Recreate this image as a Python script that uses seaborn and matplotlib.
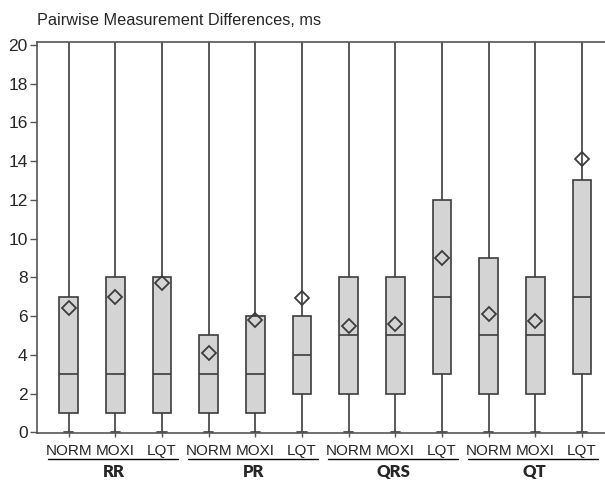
import numpy as np
import pandas as pd
import matplotlib
matplotlib.use("Agg")
import matplotlib.pyplot as plt
import seaborn as sns
from matplotlib.transforms import blended_transform_factory

# ---- data ----
measures = ["RR", "PR", "QRS", "QT"]
groups = ["NORM", "MOXI", "LQT"]
q1 = [1, 1, 1, 1, 1, 2, 2, 2, 3, 2, 2, 3]
median = [3, 3, 3, 3, 3, 4, 5, 5, 7, 5, 5, 7]
q3 = [7, 8, 8, 5, 6, 6, 8, 8, 12, 9, 8, 13]
means = [6.4, 7.0, 7.7, 4.1, 5.8, 6.95, 5.5, 5.6, 9.0, 6.1, 5.75, 14.1]
whisker_low = [0] * 12
whisker_high = [25] * 12  # whiskers run past the top of the visible range
yticks = list(range(0, 21, 2))

keys = [f"{m}|{g}" for m in measures for g in groups]
rows = []
for i, k in enumerate(keys):
    for v in (whisker_low[i], q1[i], median[i], q3[i], whisker_high[i]):
        rows.append({"key": k, "value": v})
df = pd.DataFrame(rows)
mean_df = pd.DataFrame({"key": keys, "mean": means})

sns.set_style("ticks")
plt.rcParams["font.family"] = ["Liberation Sans", "DejaVu Sans"]

fig = plt.figure(figsize=(6.05, 4.83), dpi=100)
ax = fig.add_axes([0.0617, 0.1026, 0.945, 0.8114])

edge = "#3c3c3c"
sns.boxplot(data=df, x="key", y="value", order=keys, whis=(0, 100),
            width=0.4, color="#d4d4d4", linecolor=edge, linewidth=1.2,
            fliersize=0, saturation=1, ax=ax)
sns.pointplot(data=mean_df, x="key", y="mean", order=keys, errorbar=None,
              linestyle="none", marker="D", markersize=7,
              color=edge, ax=ax)
for ln in ax.lines[-1:]:
    ln.set_markerfacecolor("none")
    ln.set_markeredgecolor(edge)
    ln.set_markeredgewidth(1.3)

ax.set_xlim(-0.67, 11.58)
ax.set_ylim(-0.06, 20.17)
ax.set_yticks(yticks)
ax.set_yticklabels([str(t) for t in yticks], fontsize=12.5)
ax.set_xticks(range(len(keys)))
ax.set_xticklabels([k.split("|")[1] for k in keys], fontsize=11)
ax.set_xlabel("")
ax.set_ylabel("")
for s in ["left", "bottom", "top"]:
    ax.spines[s].set_visible(True)
    ax.spines[s].set_color("#555555")
    ax.spines[s].set_linewidth(1.2)
ax.spines["right"].set_visible(False)
ax.tick_params(axis="y", length=5, width=1, color="#555555", pad=2)
ax.tick_params(axis="x", length=3, width=1, color="#555555", pad=4.5)

trans = blended_transform_factory(ax.transData, fig.transFigure)
for gi, m in enumerate(measures):
    start = gi * 3
    ax.plot([start - 0.45, start + 2.35], [0.049, 0.049], color="black",
            lw=1.0, transform=trans, clip_on=False)
    ax.text(start + 0.97, 0.013, m, transform=trans, ha="center",
            va="baseline", fontsize=12, fontweight="heavy",
            family=["Lato", "DejaVu Sans"])

fig.text(0.061, 0.948, "Pairwise Measurement Differences, ms",
         fontsize=11.7, ha="left", va="baseline")

fig.savefig("out.png", dpi=100)
